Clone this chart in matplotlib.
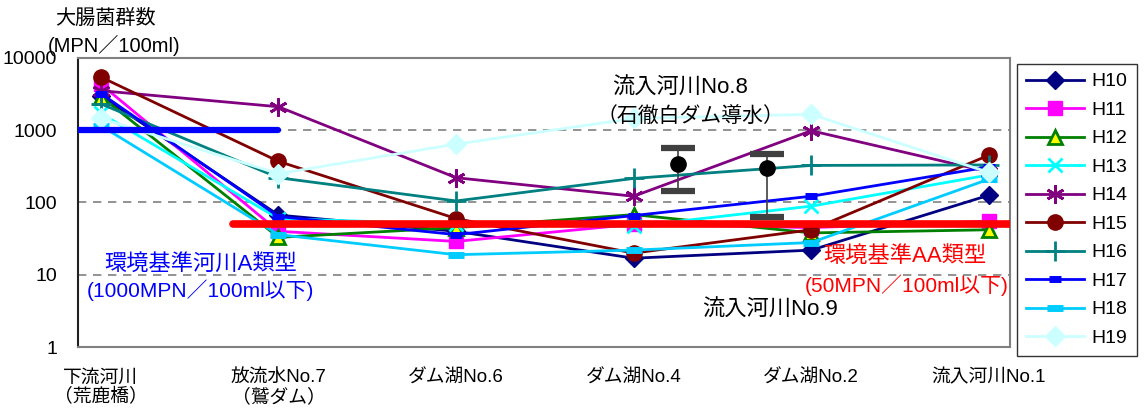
import numpy as np
import matplotlib
matplotlib.use("agg")
import matplotlib.pyplot as plt

plt.rcParams['font.family'] = ['Liberation Sans', 'Noto Sans CJK JP', 'DejaVu Sans']

# stations (x categories)
stations = ['下流河川\n（荒鹿橋）', '放流水No.7\n（鷲ダム）', 'ダム湖No.6', 'ダム湖No.4', 'ダム湖No.2', '流入河川No.1']

# coliform counts (MPN/100ml) per year
H10 = [3000, 67, 40, 17, 22, 126]
H11 = [4300, 40, 29, 50, 45, 55]
H12 = [2900, 33, 45, 68, 38, 42]
H13 = [1700, 60, 50, 47, 89, 240]
H14 = [3500, 2100, 220, 122, 980, 265]
H15 = [5400, 370, 60, 20, 42, 450]
H16 = [2300, 220, 105, 215, 325, 330]
H17 = [3200, 64, 36, 66, 122, 310]
H18 = [1150, 36, 19, 22, 28, 210]
H19 = [1450, 250, 640, 1450, 1650, 260]

# inflow rivers No.8 / No.9 (mean, min, max)
inflow_x = [3.25, 3.75]
inflow_mid = [340, 300]
inflow_lo = [145, 63]
inflow_hi = [560, 465]

std_A = 1000   # 河川A類型
std_AA = 50    # AA類型

series = [
    ('H10', H10, dict(color='#000080', marker='D', ms=9, mfc='#000080')),
    ('H11', H11, dict(color='#FF00FF', marker='s', ms=10, mfc='#FF00FF')),
    ('H12', H12, dict(color='#008000', marker='^', ms=10, mfc='#FFFF00', mew=2)),
    ('H13', H13, dict(color='#00FFFF', marker='x', ms=10, mew=2)),
    ('H14', H14, dict(color='#800080', marker=(6, 2, 0), ms=13, mew=2)),
    ('H15', H15, dict(color='#800000', marker='o', ms=11, mfc='#800000')),
    ('H16', H16, dict(color='#008080', marker='+', ms=14, mew=2)),
    ('H17', H17, dict(color='#0000FF', marker='_', ms=8, mew=5)),
    ('H18', H18, dict(color='#00CCFF', marker='_', ms=11, mew=5)),
    ('H19', H19, dict(color='#CCFFFF', marker='D', ms=10, mfc='#CCFFFF')),
]

fig = plt.figure(figsize=(11.44, 4.12), dpi=100)
ax = fig.add_axes([0.068, 0.157, 0.815, 0.703])

x = np.arange(len(stations))
for name, vals, st in series:
    ax.plot(x, vals, label=name, lw=2, **st)

# reference standards
ax.plot([-0.13, 1.0], [std_A, std_A], color='#0000FF', lw=4.5, solid_capstyle='round', zorder=5)
ax.plot([0.745, 5.13], [std_AA, std_AA], color='#FF0000', lw=5.5, solid_capstyle='round', zorder=5)

# inflow river ranges
mid = np.array(inflow_mid)
eb = ax.errorbar(inflow_x, mid, yerr=[mid - np.array(inflow_lo), np.array(inflow_hi) - mid],
                 fmt='o', color='black', ms=11, ecolor='#404040', elinewidth=1.2,
                 capsize=12, capthick=4.5, zorder=6)
for cap in eb[1]:
    cap.set_color('black')

ax.set_yscale('log')
ax.set_ylim(1, 10000)
ax.set_xlim(-0.13, 5.12)
ax.set_yticks([1, 10, 100, 1000, 10000])
ax.set_yticklabels(['1', '10', '100', '1000', '10000'], fontsize=14)
ax.yaxis.set_minor_locator(matplotlib.ticker.NullLocator())
ax.tick_params(axis='y', length=0, pad=15)
ax.set_xticks(x)
ax.set_xticklabels(stations, fontsize=13.5, linespacing=1.15, va='top')
ax.tick_params(axis='x', length=0, pad=16)
for v in [10, 100, 1000]:
    ax.axhline(v, color='#808080', ls=(0, (5, 4)), lw=1.2, zorder=0)
for s in ['top', 'right', 'bottom']:
    ax.spines[s].set_color('#808080')
    ax.spines[s].set_linewidth(1.5)
ax.spines['left'].set_color('#202020')
ax.spines['left'].set_linewidth(1.5)

# annotations
fig.text(0.048, 1 - 18 / 412, '大腸菌群数', fontsize=14.5, ha='left', va='center')
fig.text(0.042, 1 - 45 / 412, '(MPN／100ml)', fontsize=14.5, ha='left', va='center')
ax.text(0.56, 13.7, '環境基準河川A類型', color='#0000FF', fontsize=16, ha='center', va='center')
ax.text(0.56, 6.2, '(1000MPN／100ml以下)', color='#0000FF', fontsize=15, ha='center', va='center')
ax.text(4.53, 18.2, '環境基準AA類型', color='#FF0000', fontsize=16, ha='center', va='center')
ax.text(4.54, 7.3, '(50MPN／100ml以下)', color='#FF0000', fontsize=15, ha='center', va='center')
ax.text(3.26, 3780, '流入河川No.8', fontsize=16, ha='center', va='center')
ax.text(3.32, 1540, '（石徹白ダム導水）', fontsize=15, ha='center', va='center')
ax.text(3.77, 3.3, '流入河川No.9', fontsize=16, ha='center', va='center')

leg = fig.legend(loc='upper left', bbox_to_anchor=(1017 / 1144, 1 - 64 / 412), borderaxespad=0,
                 fontsize=14, frameon=True, fancybox=False, edgecolor='black',
                 handlelength=3.0, labelspacing=0.56, borderpad=0.45, handletextpad=0.4)
leg.get_frame().set_linewidth(1.0)

fig.savefig('out.png', dpi=100)
